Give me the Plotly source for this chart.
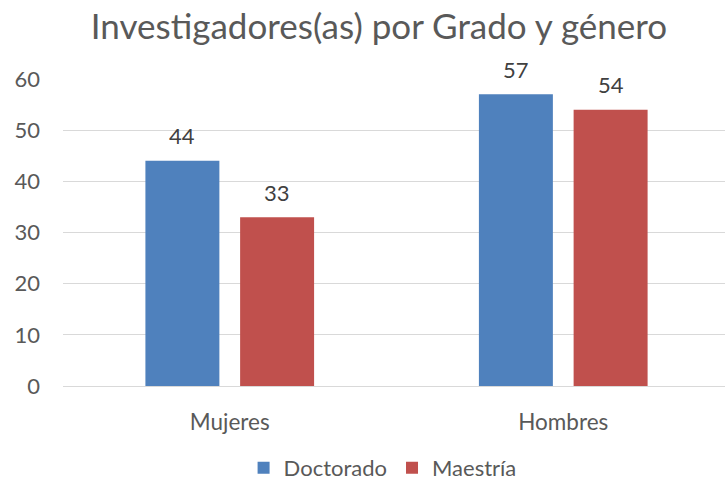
import plotly.graph_objects as go

categories = ["Mujeres", "Hombres"]
doctorado = [44, 57]
maestria = [33, 54]
series_names = ["Doctorado", "Maestría"]
tick_vals = [0, 10, 20, 30, 40, 50, 60]

colors = ["#4F81BD", "#C0504D"]
FONT = "Lato"
GRAY = "#595959"

W, H = 725, 480
ML, MR, MT, MB = 63, 0, 79, 94
x_range = [-0.5, 1.485]
bargap = 0.432
groupgap = 0.219

fig = go.Figure()
for name, vals, col in zip(series_names, [doctorado, maestria], colors):
    fig.add_trace(go.Bar(name=name, x=categories, y=vals, marker_color=col,
                         marker_line_width=0))

# data labels above bars
px_per_unit = (W - ML - MR) / (x_range[1] - x_range[0])
slot = (1 - bargap) / 2
for i, vals in enumerate([doctorado, maestria]):
    shift = (i - 0.5) * slot * px_per_unit
    for c, v in zip(categories, vals):
        fig.add_annotation(x=c, y=v, text=str(v), showarrow=False,
                           xshift=shift, yshift=25, yanchor="middle",
                           font=dict(family=FONT, size=22, color="#404040"))

fig.update_layout(
    width=W, height=H,
    margin=dict(l=ML, r=MR, t=MT, b=MB),
    paper_bgcolor="white", plot_bgcolor="white",
    barmode="group", bargap=bargap, bargroupgap=groupgap,
    title=dict(text="Investigadores(as) por Grado y género",
               x=379 / W, xanchor="center", y=1 - 27 / H, yanchor="middle",
               font=dict(family=FONT, size=35, color=GRAY)),
    legend=dict(orientation="h", x=350 / W, xanchor="center",
                y=1 - 468 / H, yref="container", yanchor="middle",
                font=dict(family=FONT, size=22, color=GRAY),
                traceorder="normal"),
    font=dict(family=FONT, color=GRAY),
)
fig.update_xaxes(range=x_range, showline=False, showgrid=False, ticks="",
                 tickfont=dict(family=FONT, size=22.5, color=GRAY),
                 ticklabelstandoff=20)
fig.update_yaxes(range=[0, 60], tickvals=tick_vals, showgrid=True,
                 gridcolor="#D9D9D9", gridwidth=1.3, zeroline=True,
                 zerolinecolor="#D9D9D9", zerolinewidth=1.3, showline=False,
                 ticks="", tickfont=dict(family=FONT, size=22, color=GRAY),
                 ticklabelstandoff=22)

fig.write_html("out.html", config={"displayModeBar": False},
               post_script="document.body.style.margin='0';document.body.style.padding='0';")
